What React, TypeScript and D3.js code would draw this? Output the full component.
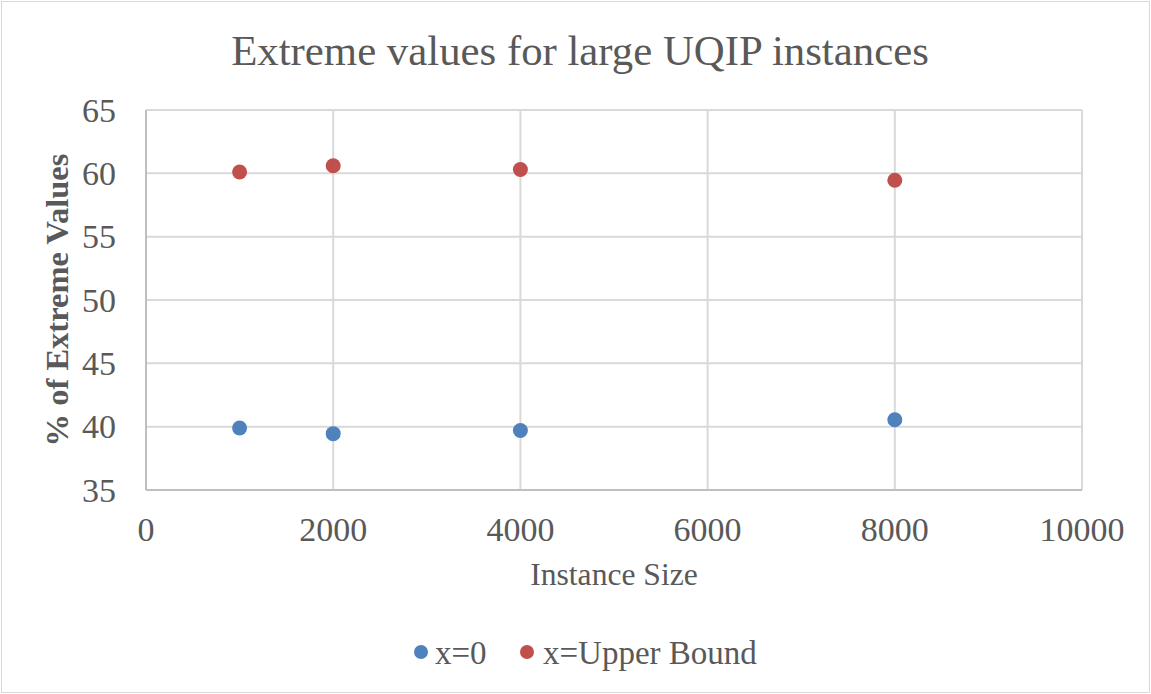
import React from "react";
import * as d3 from "d3";

const sizes = [1000, 2000, 4000, 8000];
const zeroValues = [39.9, 39.45, 39.7, 40.55];
const upperValues = [60.1, 60.6, 60.3, 59.45];
const xTicks = [0, 2000, 4000, 6000, 8000, 10000];
const yTicks = [35, 40, 45, 50, 55, 60, 65];
const seriesNames = ["x=0", "x=Upper Bound"];
const colors = ["#4F81BD", "#C0504D"];

const W = 1151, H = 694;
const left = 146, right = 1082, top = 110, bottom = 490;
const FONT = "'Liberation Serif', 'DejaVu Serif', serif";

export default function App() {
  const x = d3.scaleLinear().domain([0, 10000]).range([left, right]);
  const y = d3.scaleLinear().domain([35, 65]).range([bottom, top]);
  const series = [zeroValues, upperValues];
  return (
    <svg width={W} height={H} style={{ position: "fixed", left: 0, top: 0, background: "#fff" }} fontFamily={FONT}>
      <rect x={1.5} y={1.5} width={W - 3} height={H - 3} fill="#fff" stroke="#d9d9d9" />
      <text x={580} y={65} textAnchor="middle" fontSize={42.8} fill="#595959">Extreme values for large UQIP instances</text>
      {yTicks.map((t) => (
        <line key={"y" + t} x1={left} x2={right} y1={y(t)} y2={y(t)} stroke="#d9d9d9" strokeWidth={2} />
      ))}
      {xTicks.filter((t) => t > 0).map((t) => (
        <line key={"x" + t} x1={x(t)} x2={x(t)} y1={top} y2={bottom} stroke="#d9d9d9" strokeWidth={2} />
      ))}
      <line x1={left} x2={left} y1={top} y2={bottom} stroke="#bfbfbf" strokeWidth={2} />
      <line x1={left} x2={right} y1={bottom} y2={bottom} stroke="#bfbfbf" strokeWidth={2} />
      {yTicks.map((t) => (
        <text key={"yl" + t} x={116} y={y(t) + 11.5} textAnchor="end" fontSize={34} fill="#595959">{t}</text>
      ))}
      {xTicks.map((t) => (
        <text key={"xl" + t} x={x(t)} y={541} textAnchor="middle" fontSize={34} fill="#595959">{t}</text>
      ))}
      <text x={614} y={585} textAnchor="middle" fontSize={31.6} fill="#595959">Instance Size</text>
      <text transform={`translate(68,${(top + bottom) / 2}) rotate(-90)`} textAnchor="middle" fontSize={32.5} fontWeight="bold" fill="#595959">% of Extreme Values</text>
      {series.map((vals, si) =>
        vals.map((v, i) => (
          <circle key={si + "-" + i} cx={x(sizes[i])} cy={y(v)} r={7.5} fill={colors[si]} />
        ))
      )}
      <circle cx={421} cy={652} r={7} fill={colors[0]} />
      <text x={435} y={664} fontSize={33} fill="#595959">{seriesNames[0]}</text>
      <circle cx={527} cy={652} r={7} fill={colors[1]} />
      <text x={543} y={664} fontSize={33} fill="#595959">{seriesNames[1]}</text>
    </svg>
  );
}
